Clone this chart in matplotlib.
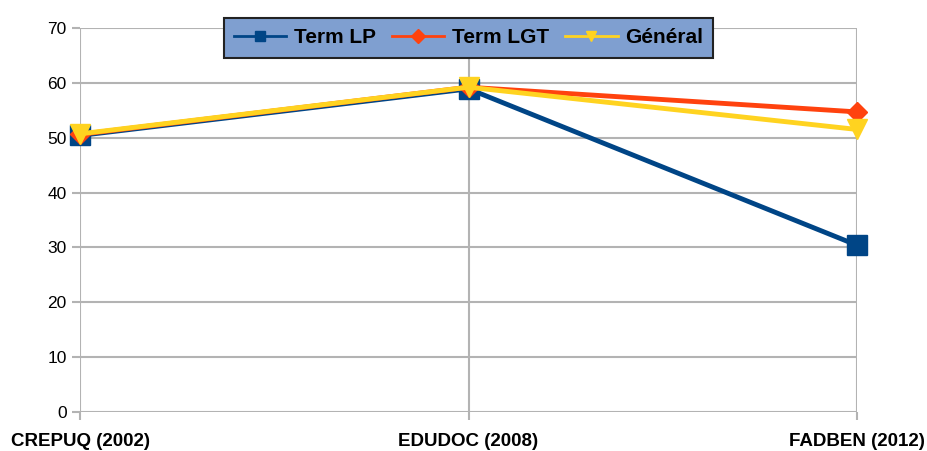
import matplotlib
matplotlib.use('Agg')
import matplotlib.pyplot as plt

categories = ['CREPUQ (2002)', 'EDUDOC (2008)', 'FADBEN (2012)']
term_lp = [50.4, 58.9, 30.4]
term_lgt = [50.6, 59.2, 54.7]
general = [50.7, 59.2, 51.5]

plt.rcParams['font.family'] = ['Liberation Sans', 'DejaVu Sans']

fig = plt.figure(figsize=(9.27, 4.51), dpi=100)
ax = fig.add_axes([0.0863, 0.0865, 0.8382, 0.8515])

x = list(range(len(categories)))
ax.plot(x, term_lp, color='#004586', lw=3.5, marker='s', ms=14, label='Term LP',
        zorder=3, clip_on=False)
ax.plot(x, term_lgt, color='#ff420e', lw=3.5, marker='D', ms=10, label='Term LGT',
        zorder=4, clip_on=False)
ax.plot(x, general, color='#ffd320', lw=3.5, marker='v', ms=15, label='Général',
        zorder=5, clip_on=False)

ax.set_xlim(0, 2)
ax.set_ylim(0, 70)
ax.set_yticks(range(0, 71, 10))
ax.set_xticks(x)
ax.set_xticklabels(categories, fontsize=13.5, fontweight='bold')
ax.tick_params(axis='y', labelsize=12.5, length=6, color='#b3b3b3', width=1.5)
ax.tick_params(axis='x', length=6, color='#b3b3b3', width=1.5, pad=9)
ax.grid(True, color='#b3b3b3', lw=1.5)
ax.set_axisbelow(True)
for s in ax.spines.values():
    s.set_visible(False)

leg = ax.legend(loc='upper center', bbox_to_anchor=(0.5, 1.026), ncol=3,
                prop={'weight': 'bold', 'size': 15}, fancybox=False, framealpha=1,
                handlelength=2.5, handletextpad=0.35, columnspacing=0.8,
                borderpad=0.5, borderaxespad=0)
leg.get_frame().set_facecolor('#7f9fd0')
leg.get_frame().set_edgecolor('#222222')
leg.get_frame().set_linewidth(1.5)
for h in leg.legend_handles:
    h.set_markersize(7)
    h.set_linewidth(2)
leg.set_zorder(10)

fig.savefig('out.png', dpi=100)
